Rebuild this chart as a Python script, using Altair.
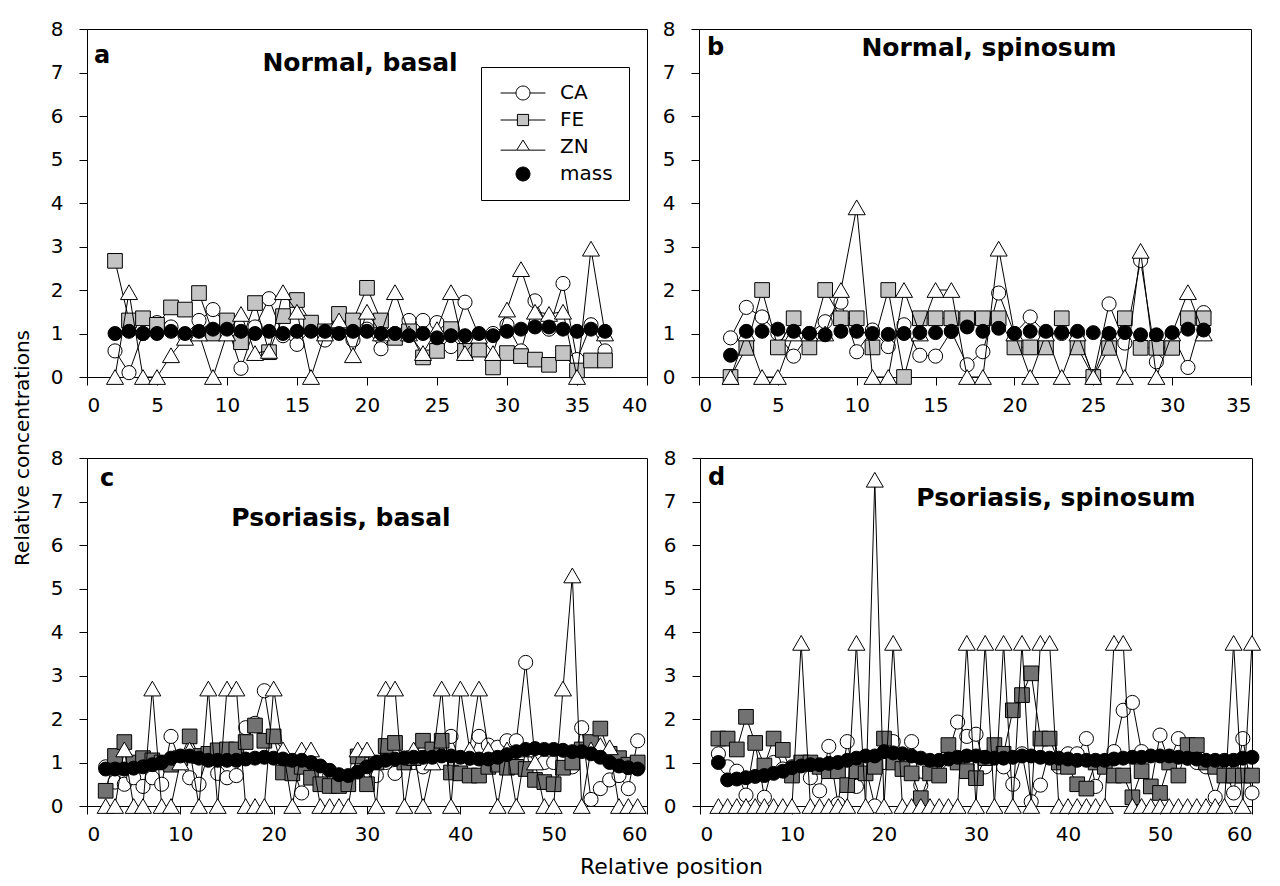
import altair as alt
import pandas as pd

FONT = "DejaVu Sans"
SERIES = ["CA", "FE", "ZN", "mass"]

# ---------------- panel a : Normal, basal ----------------
a_x = list(range(2, 38))
a_ca = [0.6, 0.1, 1.0, 1.25, 1.15, 0.95, 1.3, 1.55, 1.2, 0.2, 1.15, 1.8, 0.95, 0.75, 1.1, 0.85, 1.3, 0.85,
        1.1, 0.65, 1.0, 1.3, 1.3, 1.25, 0.7, 1.72, 0.95, 1.0, 1.2, 0.6, 1.75, 1.1, 2.15, 0.4, 1.2, 0.6]
a_fe = [2.67, 1.3, 1.35, 1.2, 1.6, 1.55, 1.93, 1.0, 1.3, 0.8, 1.7, 0.57, 1.4, 1.77, 1.25, 1.05, 1.45, 1.3,
        2.05, 1.3, 0.9, 1.05, 0.45, 0.6, 1.1, 0.6, 0.63, 0.22, 0.55, 0.48, 0.4, 0.28, 0.55, 0.15, 0.38, 0.38]
a_zn = [0, 1.95, 0, 0, 0.5, 0.9, 1.0, 0, 1.0, 1.45, 0.55, 0.6, 1.95, 1.5, 0, 1.0, 1.3, 0.5,
        1.5, 1.0, 1.95, 1.0, 0.55, 1.1, 1.95, 0.55, 0.95, 0.55, 1.55, 2.48, 1.5, 1.45, 1.5, 0.0, 2.95, 1.0]
a_mass = [1.0, 1.05, 1.0, 1.0, 1.05, 1.0, 1.05, 1.1, 1.1, 1.05, 1.0, 1.05, 1.0, 1.05, 1.05, 1.05, 1.0, 1.05,
          1.05, 1.0, 1.0, 0.95, 1.0, 0.9, 0.95, 0.95, 1.0, 0.95, 1.05, 1.1, 1.15, 1.15, 1.1, 1.05, 1.1, 1.05]

# ---------------- panel b : Normal, spinosum ----------------
b_x = list(range(2, 33))
b_ca = [0.9, 1.6, 1.38, 1.0, 0.48, 1.0, 1.27, 1.72, 0.58, 1.08, 0.7, 1.2, 0.5, 0.48, 1.05, 0.28,
        0.58, 1.93, 1.0, 1.38, 1.0, 1.0, 1.0, 0.0, 1.68, 0.78, 2.68, 0.35, 1.0, 0.22, 1.48]
b_fe = [0.0, 0.67, 2.0, 0.68, 1.35, 0.68, 2.0, 1.35, 1.35, 0.68, 2.0, 0.0, 1.35, 1.35, 1.35, 1.35,
        1.35, 1.35, 0.68, 0.68, 0.68, 1.35, 0.68, 0.0, 0.67, 1.35, 0.67, 0.67, 0.67, 1.35, 1.35]
b_zn = [0, 1.0, 0, 0, 1.0, 1.0, 1.0, 2.0, 3.9, 0, 0, 2.0, 1.0, 2.0, 2.0, 0,
        0, 2.95, 1.0, 0, 1.0, 0, 1.0, 0, 1.0, 0, 2.9, 0, 1.0, 1.95, 1.0]
b_mass = [0.5, 1.05, 1.05, 1.1, 1.05, 1.0, 0.97, 1.05, 1.05, 1.0, 0.98, 1.0, 1.02, 1.02, 1.05, 1.15,
          1.05, 1.12, 1.0, 1.05, 1.05, 1.02, 1.05, 1.02, 1.0, 1.02, 0.97, 0.97, 1.02, 1.1, 1.08]

# ---------------- panel c : Psoriasis, basal ----------------
c_x = list(range(2, 60))
c_ca = [0.9, 0.55, 0.5, 0.65, 0.45, 0.65, 0.5, 1.6, 1.0, 0.65,
        0.5, 1.2, 0.75, 0.65, 0.7, 1.8, 1.9, 2.65, 1.3, 1.1,
        0.9, 0.3, 0.9, 0.8, 0.7, 0.55, 0.6, 0.9, 0.95, 0.7,
        1.0, 0.75, 1.1, 1.0, 0.9, 1.2, 1.0, 1.6, 1.0, 1.1,
        1.6, 1.4, 1.35, 1.5, 1.5, 3.3, 1.1, 1.0, 1.0, 1.1,
        0.9, 1.8, 0.15, 0.4, 0.6, 0.7, 0.4, 1.5]
c_fe = [0.35, 1.15, 1.47, 1.0, 1.1, 1.05, 1.0, 0.95, 1.1, 1.6,
        1.15, 1.2, 1.28, 1.3, 1.3, 1.47, 1.85, 1.5, 1.6, 0.77,
        0.75, 0.9, 0.65, 0.5, 0.46, 0.46, 0.5, 1.14, 0.5, 1.0,
        1.38, 1.45, 1.0, 1.1, 1.5, 1.3, 1.5, 0.77, 0.75, 0.7,
        0.7, 0.9, 0.95, 0.88, 0.9, 0.85, 0.6, 0.55, 0.5, 0.88,
        1.0, 1.3, 1.47, 1.78, 1.2, 1.1, 0.95, 1.0]
c_zn = [0, 0, 1.3, 0, 0, 2.7, 0, 0, 1.0, 1.3,
        0, 2.7, 0, 2.7, 2.7, 0, 0, 0, 2.7, 1.3,
        0, 1.3, 1.3, 0, 0, 0, 0, 1.3, 1.3, 0,
        2.7, 2.7, 0, 1.3, 0, 1.0, 2.7, 0, 2.7, 1.3,
        2.7, 1.3, 0, 1.3, 0, 1.3, 1.0, 0, 0, 2.7,
        5.3, 0, 1.3, 1.4, 1.35, 0, 0, 0]
c_mass = [0.85, 0.85, 0.85, 0.87, 0.9, 0.95, 1.0, 1.1, 1.15, 1.15,
          1.1, 1.05, 1.05, 1.05, 1.05, 1.08, 1.1, 1.12, 1.1, 1.08,
          1.05, 1.05, 1.0, 0.92, 0.82, 0.72, 0.7, 0.78, 0.9, 1.0,
          1.05, 1.08, 1.1, 1.12, 1.12, 1.12, 1.15, 1.15, 1.12, 1.1,
          1.08, 1.08, 1.12, 1.18, 1.25, 1.3, 1.32, 1.3, 1.3, 1.28,
          1.25, 1.25, 1.2, 1.12, 1.0, 0.92, 0.88, 0.85]

# ---------------- panel d : Psoriasis, spinosum ----------------
d_x = list(range(2, 61))
d_ca = [1.2, 0.9, 0.8, 0.25, 1.45, 0.2, 1.0, 0.85, 0.9, 1.0,
        0.65, 0.35, 1.37, 0.05, 1.48, 0.45, 0.9, 0.0, 1.0, 1.48,
        1.1, 1.48, 0.48, 0.8, 1.0, 1.2, 1.93, 1.6, 1.65, 0.9,
        1.3, 0.9, 0.5, 1.2, 0.1, 0.48, 1.3, 0.9, 1.2, 1.2,
        1.55, 0.45, 1.0, 1.25, 2.2, 2.38, 1.25, 0.45, 1.63, 1.0,
        1.55, 1.1, 1.0, 0.9, 0.2, 0.9, 0.3, 1.55, 0.3]
d_fe = [1.55, 1.55, 1.3, 2.05, 1.45, 0.93, 1.55, 1.29, 0.7, 1.0,
        1.0, 0.9, 0.8, 0.8, 0.48, 0.8, 0.75, 0.9, 1.55, 1.0,
        0.85, 0.75, 0.18, 0.75, 0.7, 1.4, 1.0, 0.8, 0.64, 1.1,
        1.4, 1.2, 2.2, 2.55, 3.05, 1.55, 1.55, 1.0, 0.9, 0.5,
        0.4, 1.0, 0.9, 0.7, 0.7, 0.2, 0.8, 0.45, 0.3, 1.0,
        0.7, 1.4, 1.4, 1.0, 0.9, 0.7, 0.7, 0.7, 0.7]
d_zn = [0, 0, 0, 0, 0, 0, 0, 0, 0, 3.75,
        0, 0, 0, 0, 0, 3.75, 0, 7.5, 0, 3.75,
        0, 0, 0, 0, 0, 0, 0, 3.75, 0, 3.75,
        0, 3.75, 0, 3.75, 0, 3.75, 3.75, 0, 0, 0,
        0, 0, 0, 3.75, 3.75, 0, 0, 0, 0, 0,
        0, 0, 0, 0, 0, 0, 3.75, 0, 3.75]
d_mass = [1.0, 0.6, 0.62, 0.65, 0.68, 0.7, 0.75, 0.8, 0.88, 0.92,
          0.95, 0.95, 0.98, 1.0, 1.05, 1.1, 1.15, 1.15, 1.25, 1.22,
          1.2, 1.15, 1.1, 1.05, 1.05, 1.08, 1.12, 1.15, 1.15, 1.12,
          1.1, 1.1, 1.12, 1.15, 1.15, 1.12, 1.1, 1.1, 1.08, 1.05,
          1.05, 1.05, 1.05, 1.08, 1.1, 1.12, 1.12, 1.15, 1.15, 1.15,
          1.12, 1.1, 1.08, 1.05, 1.05, 1.05, 1.05, 1.1, 1.12]

FE_LIGHT = "#c4c4c4"
FE_DARK = "#727272"
# legend symbols: marker with a short line through it (unit = half symbol width)
LEG_PATHS = [
    "M-3.2,0L-1,0M1,0L3.2,0M1,0A1,1,0,1,1,-1,0A1,1,0,1,1,1,0Z",
    "M-3.2,0L-0.8,0M0.8,0L3.2,0M-0.8,-0.8L0.8,-0.8L0.8,0.8L-0.8,0.8Z",
    "M-3.2,0.45L-0.9,0.45M0.9,0.45L3.2,0.45M0,-1.0L0.9,0.45L-0.9,0.45Z",
    "M1,0A1,1,0,1,1,-1,0A1,1,0,1,1,1,0Z",
]
LEG_FILLS = ["white", FE_LIGHT, "white", "black"]
LEG_STROKES = ["black", "black", "black", "black"]

WL, WR, H = 560, 552, 348


def long_df(xs, ca, fe, zn, mass):
    rows = []
    for name, vals in zip(SERIES, [ca, fe, zn, mass]):
        for x, v in zip(xs, vals):
            rows.append({"x": x, "y": v, "s": name})
    return pd.DataFrame(rows)


def panel(df, width, xmax, xstep, letter, letter_pos, title, title_pos, fe_fill, legend=False):
    xenc = alt.X("x:Q", scale=alt.Scale(domain=[0, xmax], nice=False, zero=False),
                 axis=alt.Axis(values=list(range(0, xmax + 1, xstep)), title=None, format="d"))
    yenc = alt.Y("y:Q", scale=alt.Scale(domain=[0, 8], nice=False),
                 axis=alt.Axis(values=list(range(0, 9)), title=None, format="d"))
    base = alt.Chart(df).encode(x=xenc, y=yenc)
    layers = []
    for s, shape, fill, size in [("CA", "circle", "white", 200),
                                 ("FE", "square", fe_fill, 215),
                                 ("ZN", "triangle-up", "white", 290)]:
        sub = base.transform_filter(alt.datum.s == s)
        layers.append(sub.mark_line(color="black", strokeWidth=1))
        layers.append(sub.mark_point(shape=shape, filled=True, fill=fill, stroke="black",
                                     strokeWidth=1, size=size, opacity=1))
    layers.append(base.transform_filter(alt.datum.s == "mass").mark_point(
        shape="circle", filled=True, fill="black", stroke="black", strokeWidth=1, size=195, opacity=1))

    if legend:
        leg = alt.Legend(title=None, orient="none", legendX=394, legendY=38,
                         strokeColor="black", fillColor="white", padding=16,
                         symbolSize=196, symbolStrokeColor="black", symbolStrokeWidth=1,
                         symbolOffset=16, labelOffset=27, rowPadding=7,
                         labelFont=FONT, labelFontSize=20, labelColor="black")
        layers.append(base.transform_filter("false").mark_point(
            filled=True, size=196, opacity=1, strokeWidth=1).encode(
            shape=alt.Shape("s:N", scale=alt.Scale(domain=SERIES, range=LEG_PATHS), legend=leg),
            fill=alt.Fill("s:N", scale=alt.Scale(domain=SERIES, range=LEG_FILLS), legend=leg),
            stroke=alt.Stroke("s:N", scale=alt.Scale(domain=SERIES, range=LEG_STROKES), legend=leg),
        ))

    lab = pd.DataFrame({"t": [letter]})
    layers.append(alt.Chart(lab).mark_text(font=FONT, fontSize=24, fontWeight="bold", align="left",
                                           baseline="middle", color="black").encode(
        text="t:N", x=alt.value(letter_pos[0]), y=alt.value(letter_pos[1])))
    ttl = pd.DataFrame({"t": [title]})
    layers.append(alt.Chart(ttl).mark_text(font=FONT, fontSize=25, fontWeight="bold", align="center",
                                           baseline="middle", color="black").encode(
        text="t:N", x=alt.value(title_pos[0]), y=alt.value(title_pos[1])))
    return alt.layer(*layers).properties(width=width, height=H)


pa = panel(long_df(a_x, a_ca, a_fe, a_zn, a_mass), WL, 40, 5, "a", (7, 27), "Normal, basal", (273, 34),
           FE_LIGHT, legend=True)
pb = panel(long_df(b_x, b_ca, b_fe, b_zn, b_mass), WR, 35, 5, "b", (8, 19), "Normal, spinosum", (290, 19),
           FE_LIGHT)
pc = panel(long_df(c_x, c_ca, c_fe, c_zn, c_mass), WL, 60, 10, "c", (13, 21), "Psoriasis, basal", (254, 60),
           FE_DARK)
pd_ = panel(long_df(d_x, d_ca, d_fe, d_zn, d_mass), WR, 60, 10, "d", (8, 20), "Psoriasis, spinosum", (356, 40),
            FE_DARK)

grid = alt.vconcat(
    alt.hconcat(pa, pb, spacing=13),
    alt.hconcat(pc, pd_, spacing=13),
    spacing=31,
    title=alt.TitleParams("Relative position", orient="bottom", anchor="middle", fontSize=22,
                          font=FONT, fontWeight="normal", color="black", offset=12, dx=15),
)

chart = alt.hconcat(
    grid,
    title=alt.TitleParams("Relative concentrations", orient="left", anchor="middle", fontSize=20,
                          font=FONT, fontWeight="normal", color="black", offset=17),
).properties(
    padding={"top": 10, "left": 4, "right": 0, "bottom": 5}
).configure(font=FONT).configure_axis(
    domainColor="black", tickColor="black", labelColor="black", labelFont=FONT,
    labelFontSize=20, tickSize=8, grid=False, domainWidth=1, tickWidth=1,
).configure_axisX(labelPadding=10).configure_axisY(labelPadding=16).configure_view(
    stroke="black", strokeWidth=1
)

chart.save("out.html", embed_options={"renderer": "svg", "actions": False})
